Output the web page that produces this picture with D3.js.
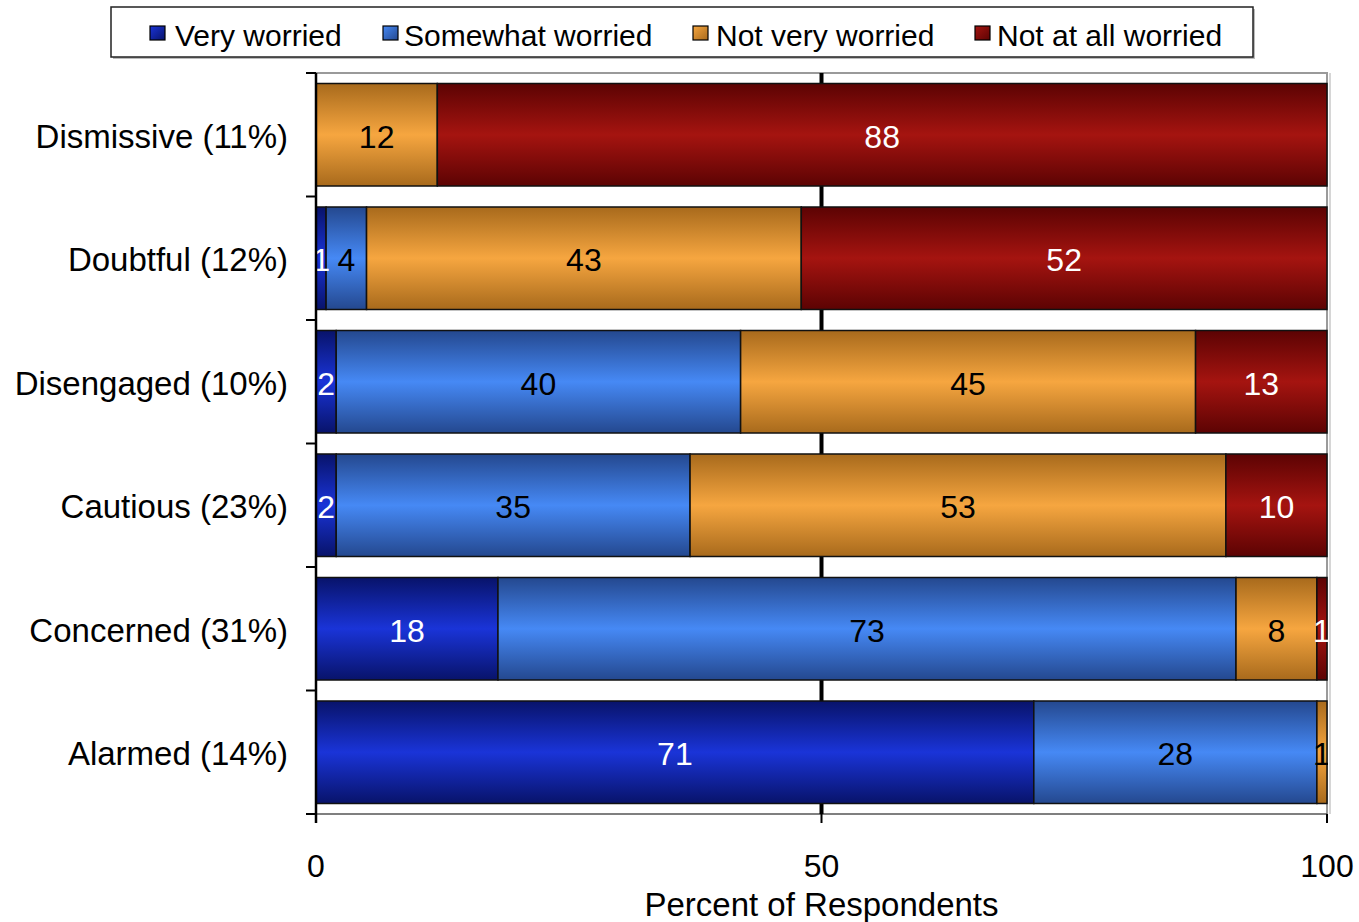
<!DOCTYPE html>
<html>
<head>
<meta charset="utf-8">
<script src="https://cdn.jsdelivr.net/npm/d3@7"></script>
<style>
  html, body { margin: 0; padding: 0; background: #fff; }
  svg { display: block; font-family: "Liberation Sans", Arial, sans-serif; }
</style>
</head>
<body>
<svg id="chart" width="1359" height="922"></svg>
<script>
// Segments (categories) and the four response series, in percent
const categories = ["Dismissive (11%)", "Doubtful (12%)", "Disengaged (10%)", "Cautious (23%)", "Concerned (31%)", "Alarmed (14%)"];
const seriesNames = ["Very worried", "Somewhat worried", "Not very worried", "Not at all worried"];
const veryWorried      = [0, 1, 2, 2, 18, 71];
const somewhatWorried  = [0, 4, 40, 35, 73, 28];
const notVeryWorried   = [12, 43, 45, 53, 8, 1];
const notAtAllWorried  = [88, 52, 13, 10, 1, 0];
const xTicks = [0, 50, 100];
const xTitle = "Percent of Respondents";

// Bar fills: edge colour, centre colour, label colour
const palette = [
  { edge: "#08136a", mid: "#1a34d8", text: "#ffffff" },
  { edge: "#24488f", mid: "#4689f5", text: "#000000" },
  { edge: "#a86a1c", mid: "#f6a640", text: "#000000" },
  { edge: "#5c0303", mid: "#a51410", text: "#ffffff" }
];

const svg = d3.select("#chart");
const margin = { left: 316, right: 1327, top: 73, bottom: 814 };

const x = d3.scaleLinear().domain([0, 100]).range([margin.left, margin.right]);
const y = d3.scaleBand().domain(categories).range([margin.top, margin.bottom])
  .paddingInner(0.17).paddingOuter(0.085);

// Stack rows
const rows = categories.map((c, i) => ({
  cat: c,
  "Very worried": veryWorried[i],
  "Somewhat worried": somewhatWorried[i],
  "Not very worried": notVeryWorried[i],
  "Not at all worried": notAtAllWorried[i]
}));
const stacked = d3.stack().keys(seriesNames)(rows);

// Vertical shading gradients for the bars
const defs = svg.append("defs");
palette.forEach((p, i) => {
  const g = defs.append("linearGradient").attr("id", "grad" + i)
    .attr("x1", 0).attr("y1", 0).attr("x2", 0).attr("y2", 1);
  g.append("stop").attr("offset", "0%").attr("stop-color", p.edge);
  g.append("stop").attr("offset", "50%").attr("stop-color", p.mid);
  g.append("stop").attr("offset", "100%").attr("stop-color", p.edge);
  defs.append("linearGradient").attr("id", "lg" + i)
    .attr("x1", 0).attr("y1", 0).attr("x2", 1).attr("y2", 1)
    .call(s => {
      s.append("stop").attr("offset", "0%").attr("stop-color", p.mid);
      s.append("stop").attr("offset", "100%").attr("stop-color", p.edge);
    });
});
defs.append("clipPath").attr("id", "plotClip").append("rect")
  .attr("x", margin.left).attr("y", margin.top)
  .attr("width", margin.right - margin.left + 1).attr("height", margin.bottom - margin.top);

// Plot frame (top and right edges, light grey)
svg.append("path")
  .attr("d", `M${margin.left},${margin.top}H${margin.right}V${margin.bottom}`)
  .attr("fill", "none").attr("stroke", "#9a9a9a").attr("stroke-width", 2);
svg.append("line")
  .attr("x1", margin.right + 3).attr("x2", margin.right + 3)
  .attr("y1", margin.top).attr("y2", margin.bottom)
  .attr("stroke", "#c8c8c8").attr("stroke-width", 1.5);
svg.append("line")
  .attr("x1", margin.left).attr("x2", margin.right)
  .attr("y1", margin.bottom).attr("y2", margin.bottom)
  .attr("stroke", "#555").attr("stroke-width", 1.5);

// Heavy reference line at 50
svg.append("line")
  .attr("x1", x(50)).attr("x2", x(50))
  .attr("y1", margin.top).attr("y2", margin.bottom)
  .attr("stroke", "#000").attr("stroke-width", 4);

// Bars
const layers = svg.append("g").selectAll("g").data(stacked).join("g")
  .attr("fill", (d, i) => `url(#grad${i})`);
layers.selectAll("rect").data(d => d.filter(s => s[1] - s[0] > 0)).join("rect")
  .attr("x", d => x(d[0]))
  .attr("y", d => y(d.data.cat))
  .attr("width", d => x(d[1]) - x(d[0]))
  .attr("height", y.bandwidth())
  .attr("stroke", "#111").attr("stroke-width", 1.5);

// Value labels
const labelG = svg.append("g").attr("clip-path", "url(#plotClip)")
  .attr("font-size", 32).attr("text-anchor", "middle");
stacked.forEach((layer, i) => {
  labelG.selectAll(null).data(layer.filter(s => s[1] - s[0] > 0)).join("text")
    .attr("x", d => (x(d[0]) + x(d[1])) / 2)
    .attr("y", d => y(d.data.cat) + y.bandwidth() / 2)
    .attr("dy", "0.4em")
    .attr("fill", palette[i].text)
    .text(d => d[1] - d[0]);
});

// Left axis
const yAxis = svg.append("g");
yAxis.append("line").attr("x1", margin.left).attr("x2", margin.left)
  .attr("y1", margin.top).attr("y2", margin.bottom + 9)
  .attr("stroke", "#000").attr("stroke-width", 2.5);
const bounds = categories.map(c => y(c) - y.step() * y.paddingInner() / 2)
  .concat([margin.bottom]);
yAxis.selectAll(".tk").data(bounds).join("line")
  .attr("x1", margin.left - 10).attr("x2", margin.left)
  .attr("y1", d => d).attr("y2", d => d)
  .attr("stroke", "#000").attr("stroke-width", 2);
yAxis.selectAll("text").data(categories).join("text")
  .attr("x", 288).attr("y", d => y(d) + y.bandwidth() / 2)
  .attr("dy", "0.39em").attr("text-anchor", "end")
  .attr("font-size", 33).attr("fill", "#000")
  .text(d => d);

// Bottom axis
const xAxis = svg.append("g");
xAxis.selectAll("line").data(xTicks).join("line")
  .attr("x1", d => x(d)).attr("x2", d => x(d))
  .attr("y1", margin.bottom).attr("y2", margin.bottom + 9)
  .attr("stroke", "#000").attr("stroke-width", 2);
xAxis.selectAll("text").data(xTicks).join("text")
  .attr("x", d => x(d)).attr("y", 877)
  .attr("text-anchor", "middle").attr("font-size", 32).attr("fill", "#000")
  .text(d => d);
svg.append("text").attr("x", x(50)).attr("y", 916)
  .attr("text-anchor", "middle").attr("font-size", 33).attr("fill", "#000")
  .text(xTitle);

// Legend
const legend = svg.append("g");
legend.append("rect").attr("x", 113).attr("y", 9).attr("width", 1142).attr("height", 50)
  .attr("fill", "#bbb");
legend.append("rect").attr("x", 111).attr("y", 7).attr("width", 1142).attr("height", 50)
  .attr("fill", "#fff").attr("stroke", "#222").attr("stroke-width", 1.5);
const swatchX = [150, 383, 693, 975];
const textX = [175, 404, 716, 997];
seriesNames.forEach((name, i) => {
  legend.append("rect").attr("x", swatchX[i]).attr("y", 26).attr("width", 15).attr("height", 14)
    .attr("fill", `url(#lg${i})`).attr("stroke", "#000").attr("stroke-width", 1.2);
  legend.append("text").attr("x", textX[i]).attr("y", 46)
    .attr("font-size", 30).attr("fill", "#000").text(name);
});
</script>
</body>
</html>
